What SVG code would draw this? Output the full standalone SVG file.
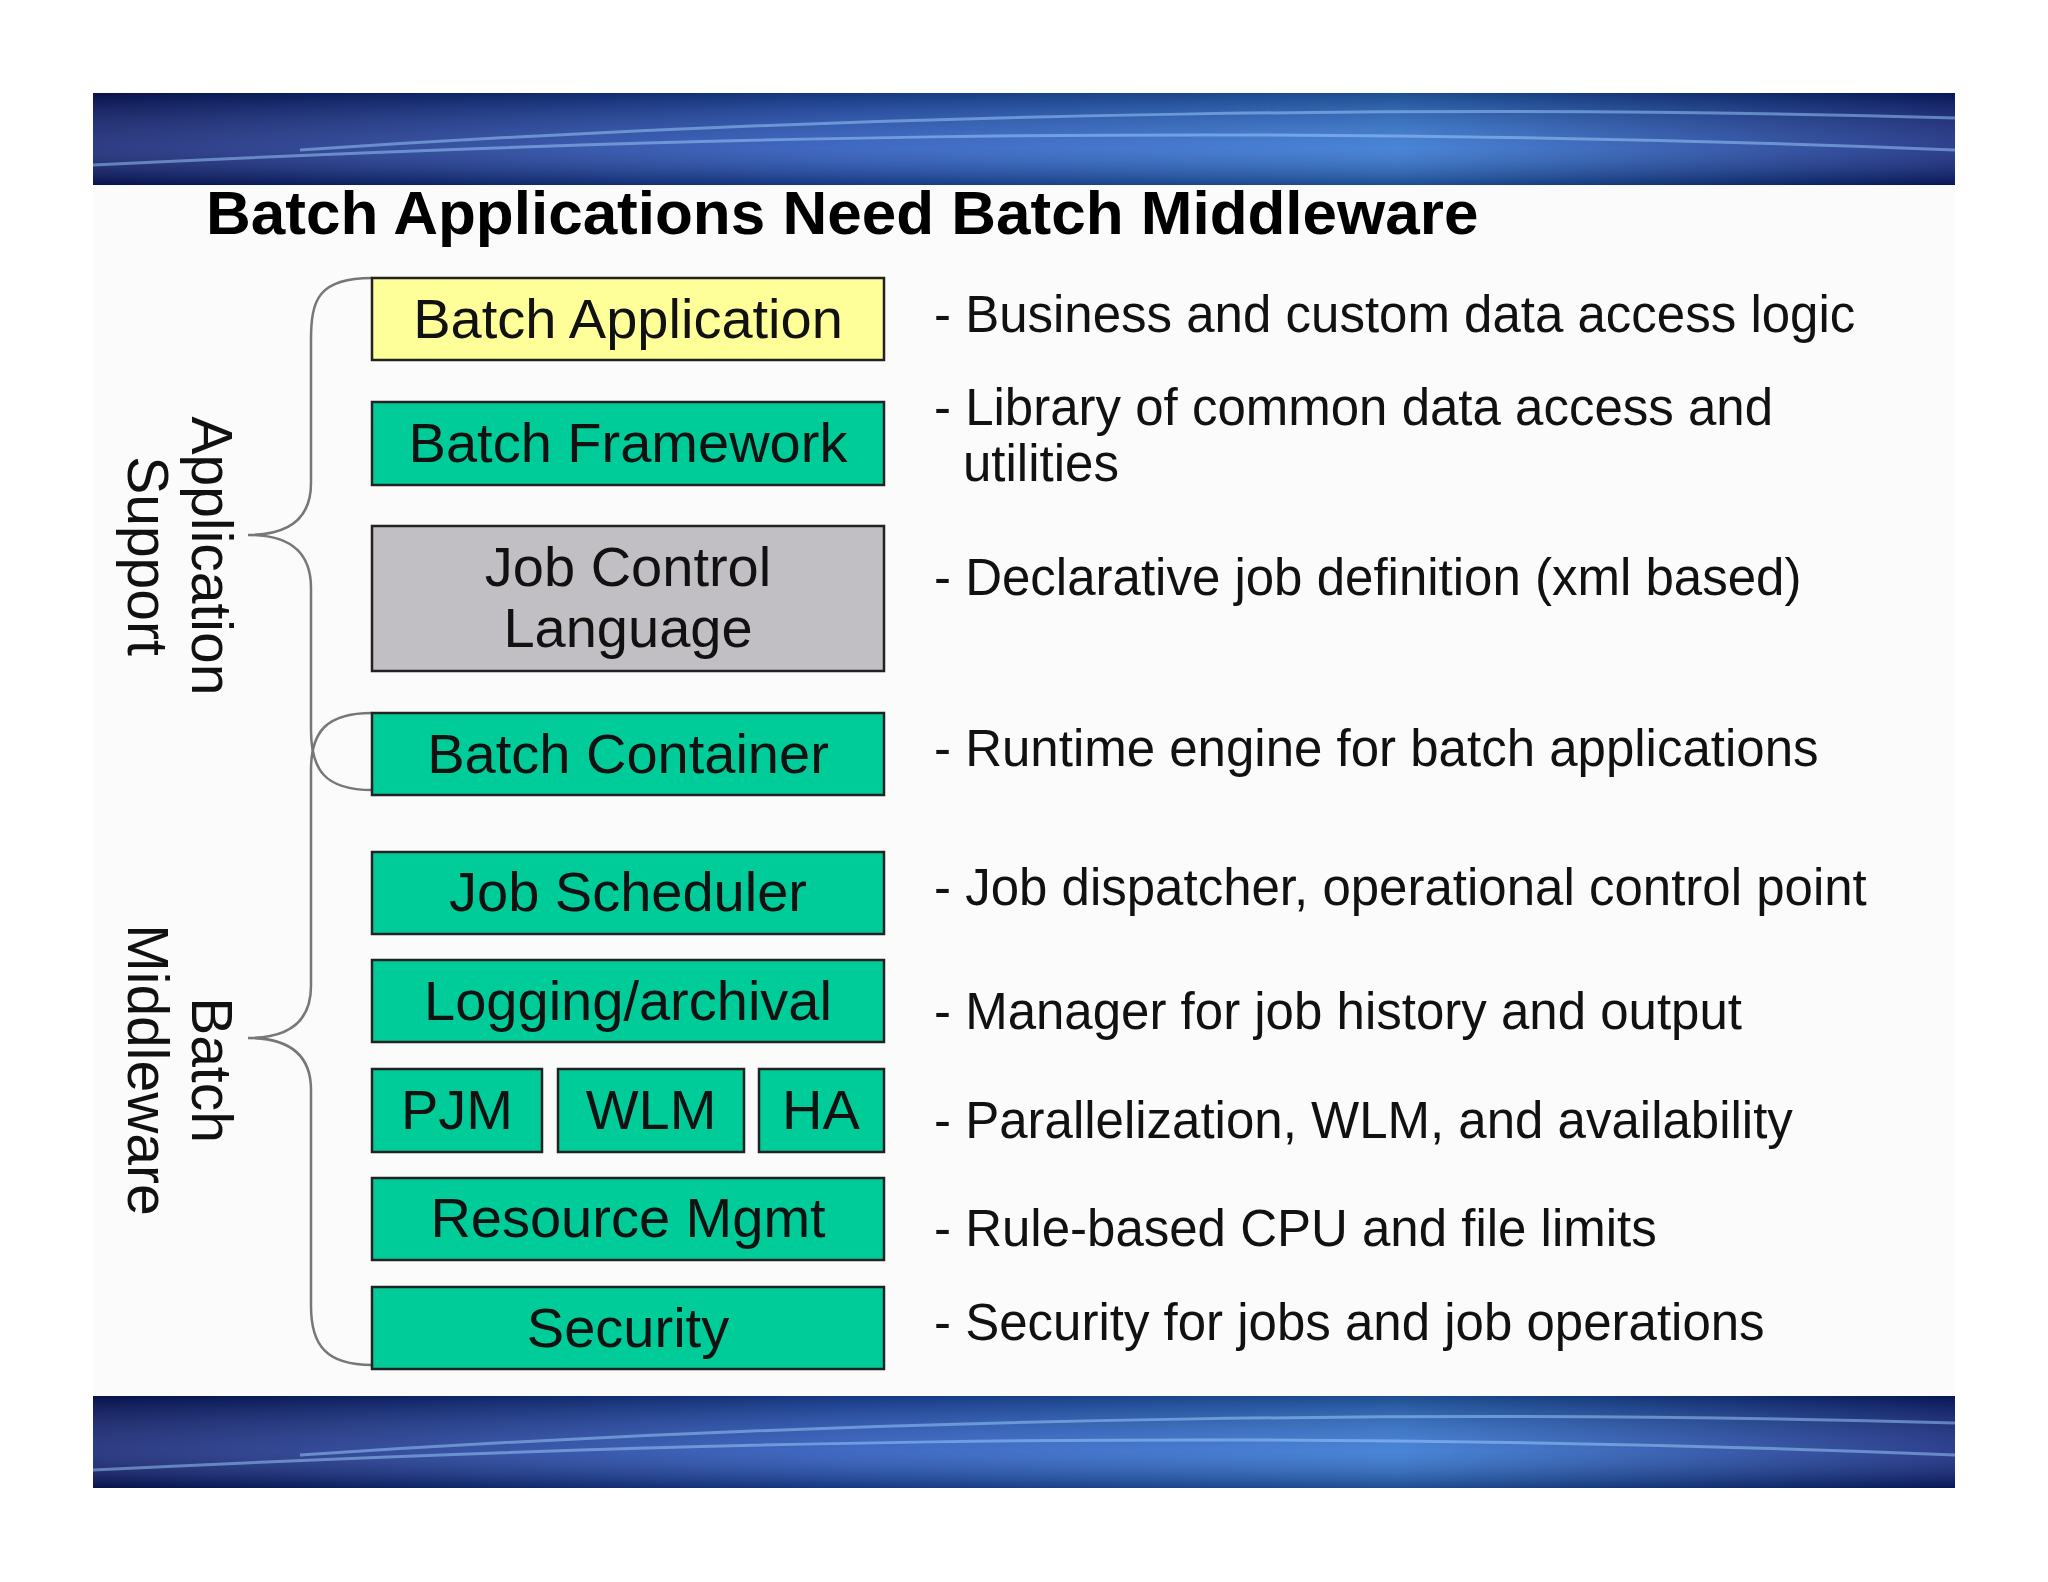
<svg xmlns="http://www.w3.org/2000/svg" width="2048" height="1582" viewBox="0 0 2048 1582">
<defs>
<linearGradient id="bg" x1="0" y1="0" x2="1" y2="0">
<stop offset="0" stop-color="#0a1a6e"/><stop offset="0.4" stop-color="#1f4fb8"/><stop offset="0.7" stop-color="#2a6fd0"/><stop offset="1" stop-color="#0a1f7a"/>
</linearGradient>
<linearGradient id="bv" x1="0" y1="0" x2="0" y2="1">
<stop offset="0" stop-color="#000" stop-opacity="0.3"/><stop offset="0.6" stop-color="#fff" stop-opacity="0.15"/><stop offset="1" stop-color="#000" stop-opacity="0.3"/>
</linearGradient>
<style>
.b{stroke:#222;stroke-width:2.5}
.g{fill:#00CC99}
.t{font-family:"Liberation Sans",Arial,sans-serif;font-size:56px;fill:#111;text-anchor:middle}
.d{font-family:"Liberation Sans",Arial,sans-serif;font-size:51px;fill:#111}
.br{fill:none;stroke:#777;stroke-width:2.5}
.streak{fill:none;stroke:#9fd0ff;stroke-opacity:0.5;stroke-width:3}
</style>
</defs>
<rect width="2048" height="1582" fill="#fff"/>
<rect x="93" y="185" width="1862" height="1211" fill="#fbfbfb"/>
<g id="banner-top">
<rect x="93" y="93" width="1862" height="92" fill="url(#bg)"/>
<rect x="93" y="93" width="1862" height="92" fill="url(#bv)"/>
<path class="streak" d="M93,165 C600,140 1200,120 1955,150"/>
<path class="streak" d="M300,150 C900,110 1500,105 1955,118"/>
</g>
<g id="banner-bottom">
<rect x="93" y="1396" width="1862" height="92" fill="url(#bg)"/>
<rect x="93" y="1396" width="1862" height="92" fill="url(#bv)"/>
<path class="streak" d="M93,1470 C600,1445 1200,1425 1955,1455"/>
<path class="streak" d="M300,1455 C900,1415 1500,1410 1955,1423"/>
</g>
<text x="206" y="234" font-family="Liberation Sans,Arial,sans-serif" font-weight="bold" font-size="62" fill="#000">Batch Applications Need Batch Middleware</text>
<g id="connectors">
<path class="br" d="M372,278 C318,278 311,300 311,340 L311,483 C311,522 285,535 248,535 C285,535 311,548 311,588 L311,730 C311,770 325,790 372,790"/>
<path class="br" d="M372,713 C326,713 311,732 311,770 L311,986 C311,1025 285,1038 248,1038 C285,1038 311,1051 311,1090 L311,1306 C311,1345 326,1365 372,1365"/>
</g>
<g id="lbl-app" font-family="Liberation Sans,Arial,sans-serif" font-size="57" fill="#111" text-anchor="middle">
<text transform="translate(176,556) rotate(90)"><tspan x="0" y="-16">Application</tspan><tspan x="0" y="48">Support</tspan></text>
</g>
<g id="lbl-mw" font-family="Liberation Sans,Arial,sans-serif" font-size="57" fill="#111" text-anchor="middle">
<text transform="translate(176,1070) rotate(90)"><tspan x="0" y="-16">Batch</tspan><tspan x="0" y="48">Middleware</tspan></text>
</g>
<g id="n1"><rect class="b" x="372" y="278" width="512" height="82" fill="#FFFF99"/><text class="t" x="628" y="338">Batch Application</text></g>
<g id="n2"><rect class="b g" x="372" y="402" width="512" height="83"/><text class="t" x="628" y="462">Batch Framework</text></g>
<g id="n3"><rect class="b" x="372" y="526" width="512" height="145" fill="#C1BFC4"/><text class="t" x="628" y="586">Job Control</text><text class="t" x="628" y="647">Language</text></g>
<g id="n4"><rect class="b g" x="372" y="713" width="512" height="82"/><text class="t" x="628" y="773">Batch Container</text></g>
<g id="n5"><rect class="b g" x="372" y="852" width="512" height="82"/><text class="t" x="628" y="911">Job Scheduler</text></g>
<g id="n6"><rect class="b g" x="372" y="960" width="512" height="82"/><text class="t" x="628" y="1020">Logging/archival</text></g>
<g id="n7"><rect class="b g" x="372" y="1069" width="170" height="83"/><text class="t" x="457" y="1129">PJM</text></g>
<g id="n8"><rect class="b g" x="558" y="1069" width="186" height="83"/><text class="t" x="651" y="1129">WLM</text></g>
<g id="n9"><rect class="b g" x="759" y="1069" width="125" height="83"/><text class="t" x="821" y="1129">HA</text></g>
<g id="n10"><rect class="b g" x="372" y="1178" width="512" height="82"/><text class="t" x="628" y="1237">Resource Mgmt</text></g>
<g id="n11"><rect class="b g" x="372" y="1287" width="512" height="82"/><text class="t" x="628" y="1347">Security</text></g>
<g id="descs">
<text class="d" x="934" y="332">- Business and custom data access logic</text>
<text class="d" x="934" y="425">- Library of common data access and</text>
<text class="d" x="963" y="481">utilities</text>
<text class="d" x="934" y="595">- Declarative job definition (xml based)</text>
<text class="d" x="934" y="766">- Runtime engine for batch applications</text>
<text class="d" x="934" y="905">- Job dispatcher, operational control point</text>
<text class="d" x="934" y="1029">- Manager for job history and output</text>
<text class="d" x="934" y="1138">- Parallelization, WLM, and availability</text>
<text class="d" x="934" y="1246">- Rule-based CPU and file limits</text>
<text class="d" x="934" y="1340">- Security for jobs and job operations</text>
</g>
</svg>
